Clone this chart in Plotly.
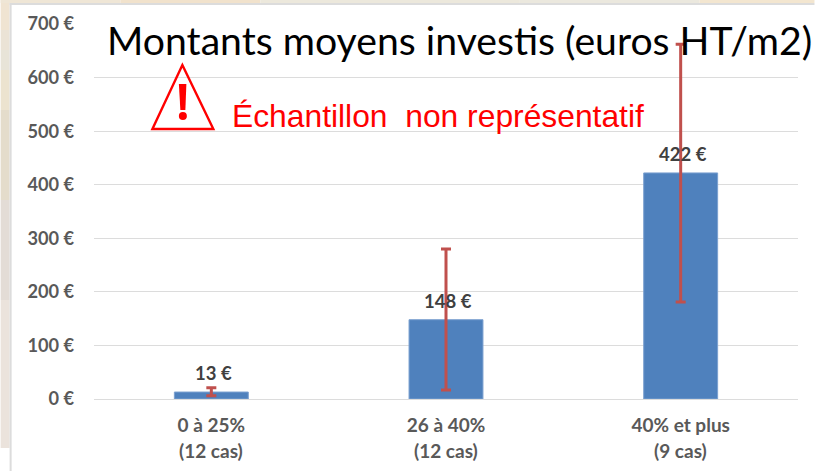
import plotly.graph_objects as go

categories = ["0 à 25%", "26 à 40%", "40% et plus"]
cases = ["(12 cas)", "(12 cas)", "(9 cas)"]
values = [13, 148, 422]
err_high = [21, 280, 662]
err_low = [6, 17, 181]
y_ticks = [0, 100, 200, 300, 400, 500, 600, 700]
title = "Montants moyens investis (euros HT/m2)"
warning = "Échantillon  non représentatif"

GREY = "#595959"
L, R, T, B = 93.5, 798.5, 24, 399
def px(x):
    return (x - L) / (R - L)
def py(y):
    return (B - y) / (B - T)

fig = go.Figure(go.Bar(
    x=categories, y=values, width=0.315,
    marker=dict(color="#4f81bd", line=dict(color="#7ba0d0", width=1)),
    error_y=dict(type="data", symmetric=False,
                 array=[h - v for h, v in zip(err_high, values)],
                 arrayminus=[v - l for v, l in zip(values, err_low)],
                 color="#c0504d", thickness=3, width=5),
    hoverinfo="skip",
))

annotations = []
for c, v, n in zip(categories, values, cases):
    annotations.append(dict(x=c, y=v, xref="x", yref="y", text=f"<b>{v} €</b>", showarrow=False,
                            yanchor="bottom", yshift=6, xshift=2, font=dict(family="Lato", size=18.5, color="#404040")))
    annotations.append(dict(x=c, y=0, xref="x", yref="paper", text=f"<b>{n}</b>", showarrow=False,
                            yanchor="middle", yshift=-51, font=dict(family="Lato", size=19, color=GREY)))
annotations.append(dict(x=px(105), y=py(39), xref="paper", yref="paper", text=title, showarrow=False,
                        xanchor="left", yanchor="middle", font=dict(family="Lato", size=39.2, color="#000000")))
annotations.append(dict(x=px(230), y=py(116), xref="paper", yref="paper", text=warning, showarrow=False,
                        xanchor="left", yanchor="middle", font=dict(family="Liberation Sans", size=31.8, color="#ff0000")))

def rect(x0, y0, x1, y1, color):
    return dict(type="rect", xref="paper", yref="paper", x0=px(x0), x1=px(x1),
                y0=py(y1), y1=py(y0), fillcolor=color, line=dict(width=0), layer="below")

strip = [(0, 30, "#f0e4d2"), (30, 50, "#ebe3d6"), (50, 70, "#e8e4d8"), (70, 110, "#ece3cf"),
         (110, 200, "#e4dccb"), (200, 300, "#e3dcd6"), (300, 448, "#ebe3dc")]
shapes = [rect(0, y0, 9, y1, c) for y0, y1, c in strip]
top = [(0, 120, "#efe6d6"), (120, 260, "#f1e2cc"), (260, 520, "#ece8dc"), (520, 700, "#ebe8de"), (700, 815, "#f3e6d0")]
shapes += [rect(x0, 0, x1, 3, c) for x0, x1, c in top]
shapes += [rect(9, 3, 11, 471, "#dcdcdc"), rect(9, 3, 815, 5, "#dcdcdc")]
shapes.append(dict(type="path", xref="paper", yref="paper",
                   path=f"M {px(152)} {py(129)} L {px(182)} {py(65)} L {px(213)} {py(129)} Z",
                   line=dict(color="#ff0000", width=2.4), fillcolor="rgba(0,0,0,0)"))
shapes.append(dict(type="path", xref="paper", yref="paper",
                   path=f"M {px(178.5)} {py(84)} L {px(186)} {py(84)} L {px(185)} {py(110)} L {px(180)} {py(110)} Z",
                   line=dict(width=0), fillcolor="#ff0000"))
shapes.append(dict(type="circle", xref="paper", yref="paper",
                   x0=px(178.5), x1=px(186.5), y0=py(120), y1=py(112),
                   line=dict(width=0), fillcolor="#ff0000"))

fig.update_layout(
    width=815, height=471, autosize=False,
    margin=dict(l=L, r=815 - R, t=T, b=471 - B, pad=0),
    paper_bgcolor="#ffffff", plot_bgcolor="#ffffff",
    showlegend=False,
    annotations=annotations, shapes=shapes,
    xaxis=dict(showgrid=False, showline=False, ticks="", tickfont=dict(family="Lato", size=19, color=GREY),
               tickprefix="<b>", ticksuffix="</b>", ticklabelstandoff=13),
    yaxis=dict(range=[0, 700], tickvals=y_ticks, ticktext=[f"<b>{t} €</b>" for t in y_ticks],
               gridcolor="#dcdcdc", gridwidth=1, zeroline=True, zerolinecolor="#dcdcdc", zerolinewidth=1,
               showline=False, ticks="", ticklabelstandoff=19,
               tickfont=dict(family="Lato", size=18.2, color=GREY)),
)
fig.write_html("out.html", config=dict(displayModeBar=False), post_script="document.body.style.margin='0';")
